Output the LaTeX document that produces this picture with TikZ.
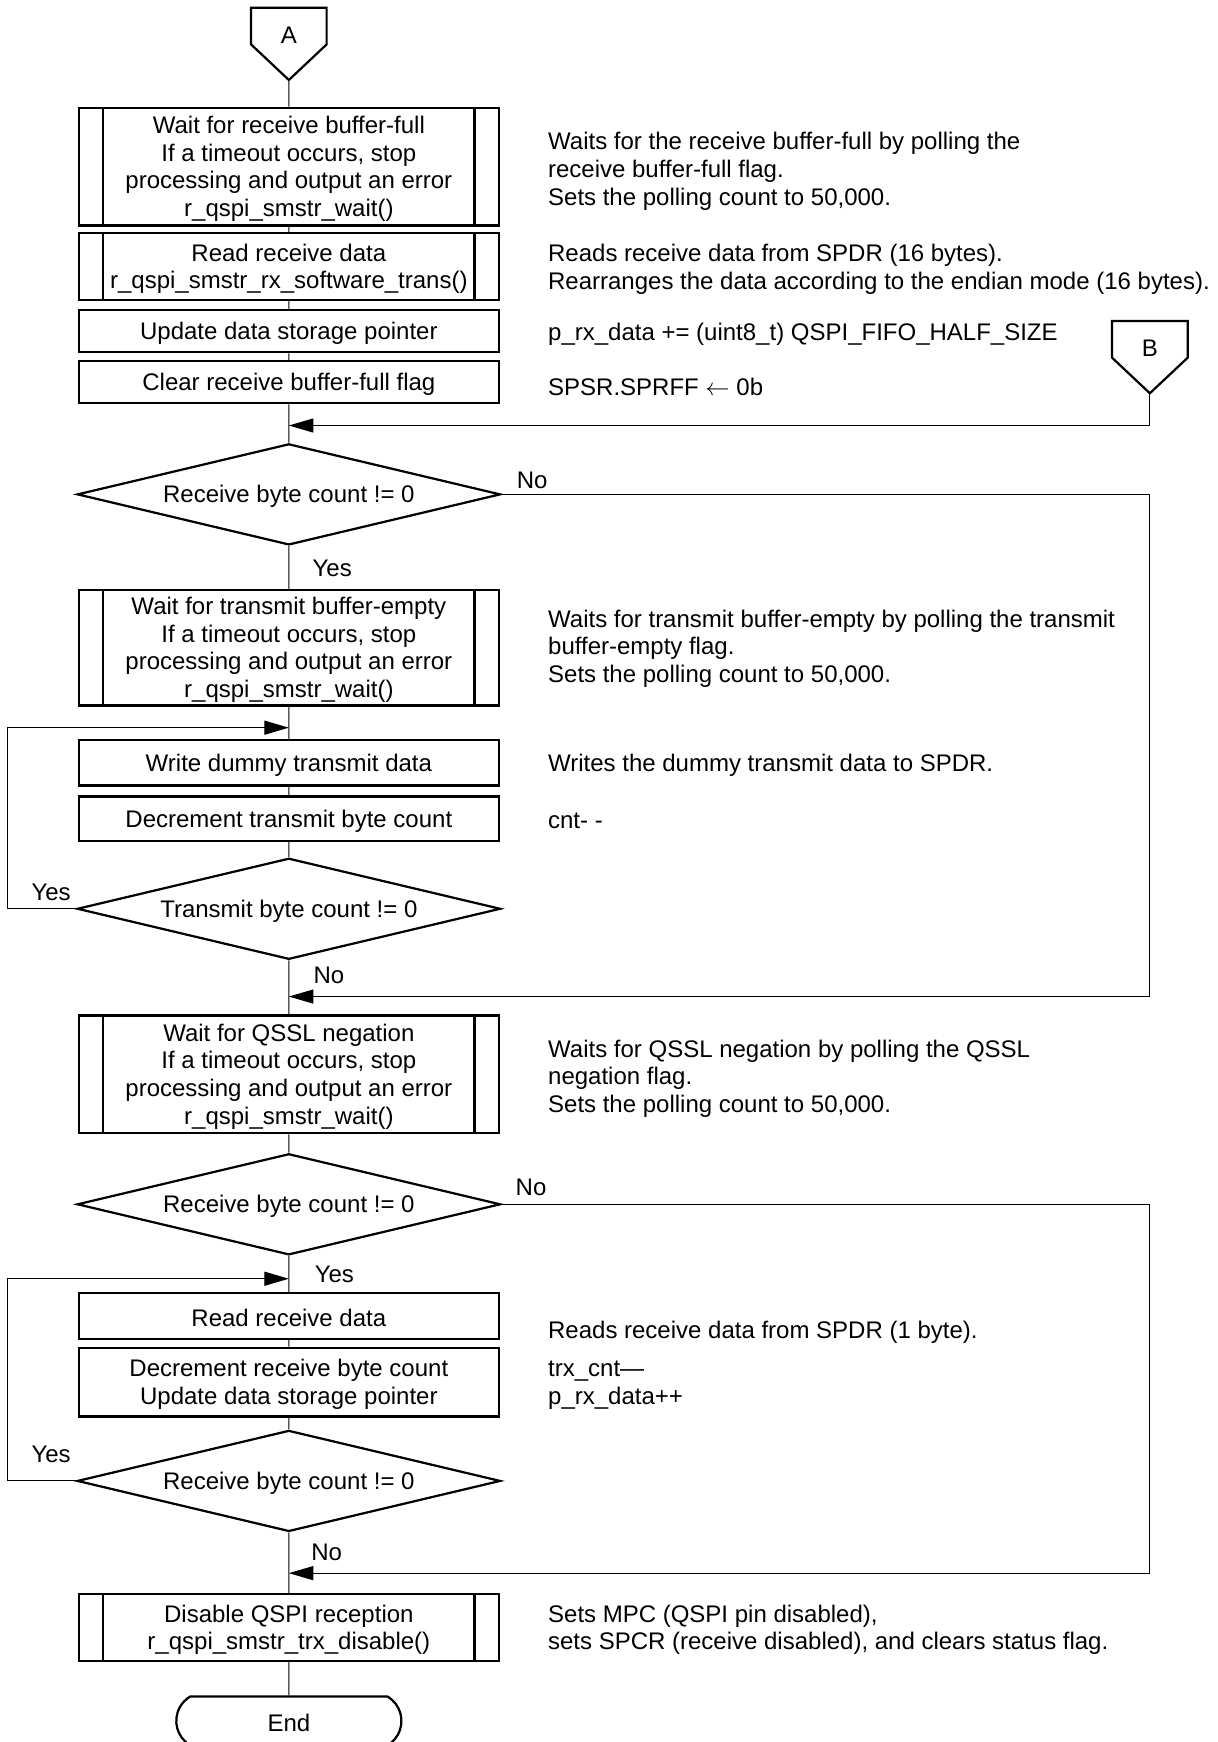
\documentclass[tikz,border=0pt]{standalone}
\usepackage{fontspec}
\setmainfont{Liberation Sans}
\usetikzlibrary{arrows.meta,shapes.geometric,shapes.misc}
\newcommand{\Tstrut}{\rule{0pt}{9.8pt}}

\begin{document}
\begin{tikzpicture}[
        % Environment Config
        x=0.5pt, y=-0.5pt,
        font=\fontsize{10.8}{12.5}\selectfont,
        execute at begin node={\Tstrut},
        Proc/.style={% Style for a process box
          draw,
          line width=1pt,
          minimum width=189pt,
          inner sep=0pt,
          align=center
        },
        SubProc/.style={% Style for a sub-routine box
          Proc,
          path picture={
            \draw[line width=1pt]
              ([xshift=11pt]path picture bounding box.north west) -- ([xshift=11pt]path picture bounding box.south west)
              ([xshift=-11pt]path picture bounding box.north east) -- ([xshift=-11pt]path picture bounding box.south east);
          }
        },
        Decision/.style={% Style for a branch
          draw,
          diamond,
          line width=1pt,
          aspect=4,
          minimum width=190.5pt,
          minimum height=45.5pt,
          inner sep=0pt
        },
        Terminal/.style={% Style for the end mark
          draw,
          rounded rectangle,
          rounded rectangle arc length=120,
          line width=1pt,
          minimum width=108pt,
          minimum height=22pt
        },
        Note/.style={anchor=west, align=left, inner sep=0pt},
        Flow/.style={line width=0.5pt},
        FlowArrow/.style={Flow, -{Triangle[length=11pt,width=6.3pt]}}
      ]

      \useasboundingbox (0,0) rectangle (1096,1568);

      \def\OffPage(#1)#2#3{% Off-page connector
        \begin{scope}[shift={(#1)}]
          %===Shape===
          \draw[line width=1pt, line join=miter] (-34,0) -- (34,0) -- (34,33) -- (0,65) -- (-34,33) -- cycle;
          %===Label===
          \node (#2) at (0,22) {#3};
          %===PIN: tip===
          \coordinate (#2 tip) at (0,65);
        \end{scope}
      }

      % Put the connectors in position
      \OffPage(260,7){A}{A}
      \OffPage(1035,289){B}{B}

      % Receive 16 bytes
      \node[SubProc, minimum height=53pt] (rxWait) at (260,150)
        {\Tstrut Wait for receive buffer-full\\If a timeout occurs, stop\\processing and output an error\\r\_qspi\_smstr\_wait()};
      \node[SubProc, minimum height=30pt] (rxRead) at (260,240)
        {\Tstrut Read receive data\\r\_qspi\_smstr\_rx\_software\_trans()};
      \node[Proc, minimum height=19pt] (ptrUpd) at (260,298) {Update data storage pointer};
      \node[Proc, minimum height=19pt] (clrFlag) at (260,344) {Clear receive buffer-full flag};

      % Transmit dummy data
      \node[Decision] (rxChk1) at (260,445) {Receive byte count != 0};
      \node[SubProc, minimum height=52pt] (txWait) at (260,583)
        {\Tstrut Wait for transmit buffer-empty\\If a timeout occurs, stop\\processing and output an error\\r\_qspi\_smstr\_wait()};
      \node[Proc, minimum height=20.5pt] (txWrite) at (260,686.5) {Write dummy transmit data};
      \node[Proc, minimum height=20pt] (txDec) at (260,737) {Decrement transmit byte count};
      \node[Decision] (txChk) at (260,818) {Transmit byte count != 0};

      % Wait for QSSL and read the rest
      \node[SubProc, minimum height=53pt] (sslWait) at (260,967)
        {\Tstrut Wait for QSSL negation\\If a timeout occurs, stop\\processing and output an error\\r\_qspi\_smstr\_wait()};
      \node[Decision] (rxChk2) at (260,1084) {Receive byte count != 0};
      \node[Proc, minimum height=20.5pt] (rxByte) at (260,1184.5) {Read receive data};
      \node[Proc, minimum height=31pt] (rxDec) at (260,1244)
        {\Tstrut Decrement receive byte count\\Update data storage pointer};
      \node[Decision] (rxChk3) at (260,1333) {Receive byte count != 0};
      \node[SubProc, minimum height=30pt] (rxOff) at (260,1465)
        {\Tstrut Disable QSPI reception\\r\_qspi\_smstr\_trx\_disable()};
      \node[Terminal] (End) at (260,1549) {End};

      % Notes on the right
      \node[Note] (nRxWait) at (493,152)
        {\Tstrut Waits for the receive buffer-full by polling the\\receive buffer-full flag.\\Sets the polling count to 50,000.};
      \node[Note] (nRxRead) at (493,240.5)
        {\Tstrut Reads receive data from SPDR (16 bytes).\\Rearranges the data according to the endian mode (16 bytes).};
      \node[Note] (nPtrUpd) at (493,299) {p\_rx\_data += (uint8\_t) QSPI\_FIFO\_HALF\_SIZE};
      \node[Note] (nClrFlag) at (493,346) {SPSR.SPRFF $\leftarrow$ 0b};
      \node[Note] (nTxWait) at (493,582)
        {\Tstrut Waits for transmit buffer-empty by polling the transmit\\buffer-empty flag.\\Sets the polling count to 50,000.};
      \node[Note] (nTxWrite) at (493,687) {Writes the dummy transmit data to SPDR.};
      \node[Note] (nTxDec) at (493,736) {cnt- -};
      \node[Note] (nSslWait) at (493,969)
        {\Tstrut Waits for QSSL negation by polling the QSSL\\negation flag.\\Sets the polling count to 50,000.};
      \node[Note] (nRxByte) at (493,1197) {Reads receive data from SPDR (1 byte).};
      \node[Note] (nRxDec) at (493,1244) {\Tstrut trx\_cnt---\\p\_rx\_data++};
      \node[Note] (nRxOff) at (493,1465)
        {\Tstrut Sets MPC (QSPI pin disabled),\\sets SPCR (receive disabled), and clears status flag.};

      % Branch labels
      \node (lNo1) at (479,430) {No};
      \node (lYes1) at (299,509) {Yes};
      \node (lYes2) at (46,801) {Yes};
      \node (lNo2) at (296,876) {No};
      \node (lNo3) at (478,1066) {No};
      \node (lYes3) at (301,1145) {Yes};
      \node (lYes4) at (46,1307) {Yes};
      \node (lNo4) at (294,1395) {No};

      % Merge points on the main line
      \coordinate (mB) at (260,383);
      \coordinate (mTx) at (260,655);
      \coordinate (mNo1) at (260,897);
      \coordinate (mRx) at (260,1151);
      \coordinate (mNo2) at (260,1416);

      % Draw the flow lines
      \draw[Flow]
      (A tip) -- (rxWait)
      (rxWait) -- (rxRead)
      (rxRead) -- (ptrUpd)
      (ptrUpd) -- (clrFlag)
      (clrFlag) -- (rxChk1)
      (rxChk1) -- (txWait)
      (txWait) -- (txWrite)
      (txWrite) -- (txDec)
      (txDec) -- (txChk)
      (txChk) -- (sslWait)
      (sslWait) -- (rxChk2)
      (rxChk2) -- (rxByte)
      (rxByte) -- (rxDec)
      (rxDec) -- (rxChk3)
      (rxChk3) -- (rxOff)
      (rxOff) -- (End);

      %===B===
      \draw[FlowArrow] (B tip) |- (mB);
      %===No branches===
      \draw[FlowArrow] (rxChk1.east) -| (B tip |- mNo1) -- (mNo1);
      \draw[FlowArrow] (rxChk2.east) -| (B tip |- mNo2) -- (mNo2);
      %===Loops===
      \draw[FlowArrow] (txChk.west) -- ++(-62,0) |- (mTx);
      \draw[FlowArrow] (rxChk3.west) -- ++(-62,0) |- (mRx);

\end{tikzpicture}
\end{document}
